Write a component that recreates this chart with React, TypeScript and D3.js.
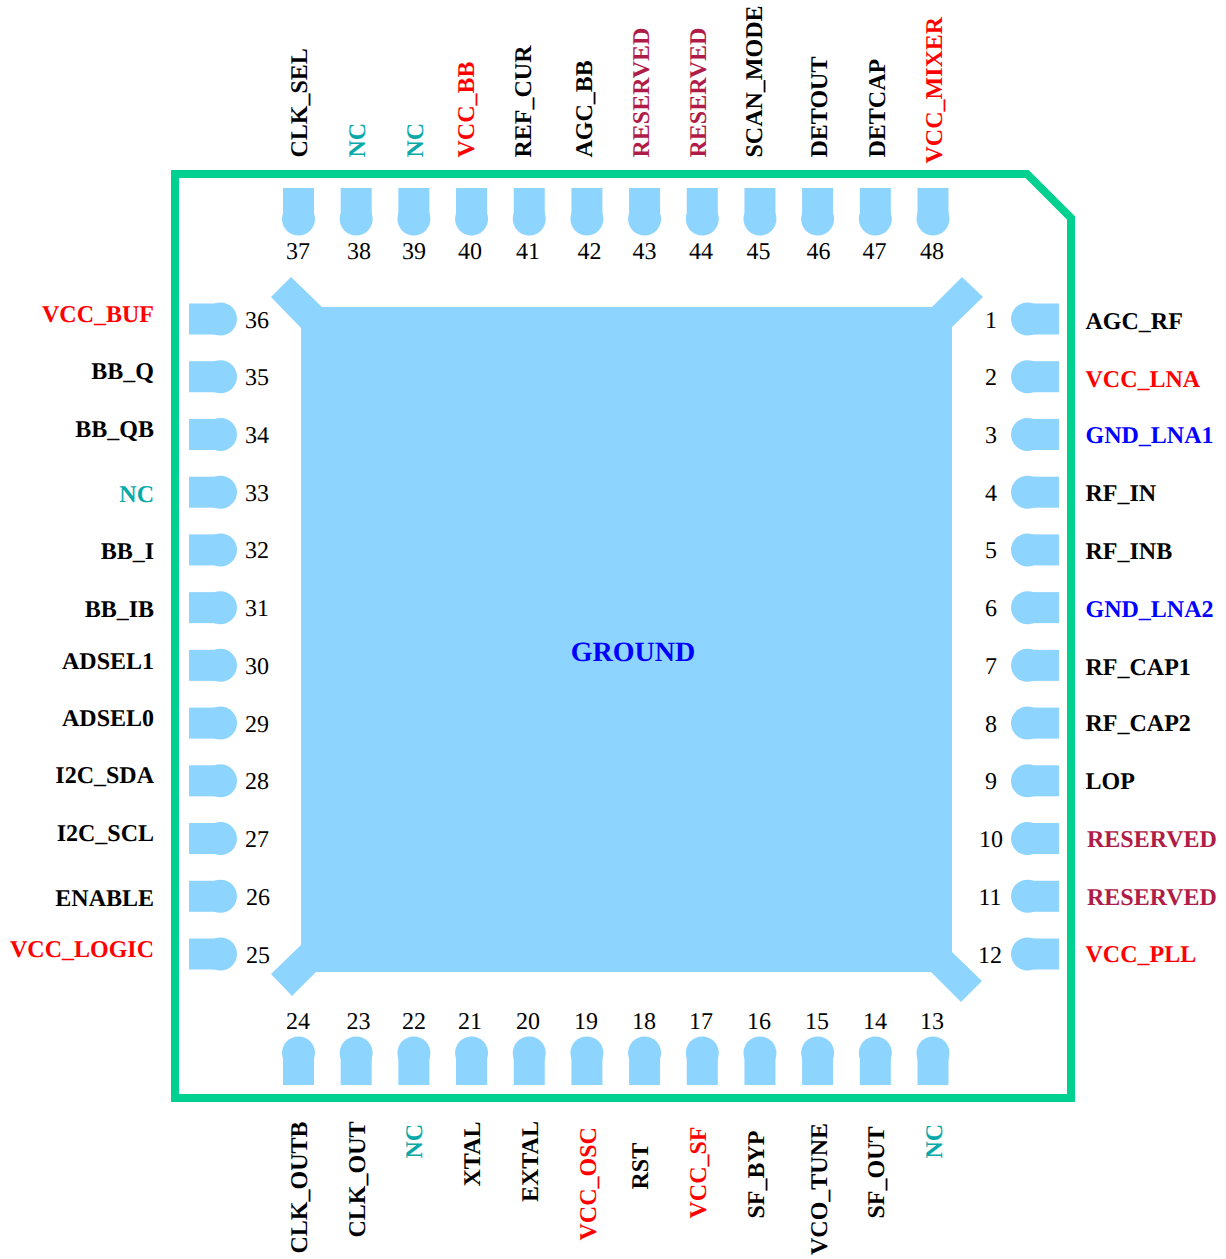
import React from "react";
import * as d3 from "d3";

const rightPins = ["AGC_RF","VCC_LNA","GND_LNA1","RF_IN","RF_INB","GND_LNA2","RF_CAP1","RF_CAP2","LOP","RESERVED","RESERVED","VCC_PLL"];
const rightNums = d3.range(1, 13);
const bottomPins = ["NC","SF_OUT","VCO_TUNE","SF_BYP","VCC_SF","RST","VCC_OSC","EXTAL","XTAL","NC","CLK_OUT","CLK_OUTB"];
const bottomNums = d3.range(13, 25);
const leftPins = ["VCC_LOGIC","ENABLE","I2C_SCL","I2C_SDA","ADSEL0","ADSEL1","BB_IB","BB_I","NC","BB_QB","BB_Q","VCC_BUF"];
const leftNums = d3.range(25, 37);
const topPins = ["CLK_SEL","NC","NC","VCC_BB","REF_CUR","AGC_BB","RESERVED","RESERVED","SCAN_MODE","DETOUT","DETCAP","VCC_MIXER"];
const topNums = d3.range(37, 49);

// Layout of the labels, which the source placed by hand
const rightLabelY = [328.5,387,442.5,501,558.5,616.5,674.5,730.5,788.5,846.5,904.5,961.5];
const leftLabelY = [956.5,905.5,840.5,782.5,725.5,668.5,616.5,558.5,502,436.5,378.5,321.5];
const topLabelX = [307,365,422.5,474,531,591.5,649,706,761.5,826.5,884.5,942];
const topLabelY = [157.5,157.5,157.5,157.5,157.5,157.5,157.5,157.5,157.5,157.5,157.5,163.5];
const bottomLabelX = [942,884,826.5,764,706,648,595.5,538,480,422,364.5,307];
const bottomLabelY = [1158.5,1218.5,1255,1218.5,1218.5,1189.5,1240.5,1202,1186.5,1158.5,1237.5,1253.5];
const topNumX = [298,359,414,470,528,589.5,644.5,701,758.5,818.5,874.5,932];
const bottomNumX = [932,875,817,759,701,644,586,528,470,414,358.5,298];
const leftNumX = [246,246,245,245,245,245,245,245,245,245,245,245];
const rightNumX = [991,991,991,991,991,991,991,991,991,991,990,990];

const COLORS = { pad: "#8dd4ff", border: "#00d090", red: "#ff0000", blue: "#0000ff", teal: "#0aa9a9", crimson: "#b01c48", black: "#000000" };
const FONT = "'Liberation Serif', 'Times New Roman', serif";

function labelColor(name: string): string {
  if (name === "NC") return COLORS.teal;
  if (name === "RESERVED") return COLORS.crimson;
  if (name.startsWith("VCC")) return COLORS.red;
  if (name.startsWith("GND")) return COLORS.blue;
  return COLORS.black;
}

const idx = d3.range(12);
const xTop = d3.scalePoint<number>().domain(idx).range([298.5, 933]);
const yLeft = d3.scalePoint<number>().domain(idx).range([954, 319]);
const yRight = d3.scalePoint<number>().domain(idx).range([319, 954]);
const xBottom = d3.scalePoint<number>().domain(idx).range([933, 298.5]);

const line = d3.line();
const outline = line([[175,174],[1027,174],[1071,218],[1071,1098],[175,1098]]) + "Z";
const groundPad = line([
  [271,297],[291,277],[322,307],[932,307],[962,277],[983,297],[952,327],
  [952,952],[982,981],[961,1002],[931,972],[316,972],[292,996],[271,974],[301,945],[301,328],
]) + "Z";

const PIN_HALF = 15.5;
const PIN_R = 16.5;

export default function App() {
  return (
    <svg width={1226} height={1259} viewBox="0 0 1226 1259" style={{ position: "absolute", left: 0, top: 0, background: "#fff" }} fontFamily={FONT} fontSize={24} textRendering="geometricPrecision">
      <path d={groundPad} fill={COLORS.pad} />
      <path d={outline} fill="none" stroke={COLORS.border} strokeWidth={8} strokeLinejoin="miter" />
      <text x={633} y={661} textAnchor="middle" fontSize={28} fontWeight="bold" fill={COLORS.blue}>GROUND</text>

      {idx.map((i) => {
        const x = xTop(i)!;
        return (
          <g key={"t" + i}>
            <rect x={x - PIN_HALF} y={188} width={PIN_HALF * 2} height={31} fill={COLORS.pad} />
            <circle cx={x} cy={219} r={PIN_R} fill={COLORS.pad} />
            <text x={topNumX[i]} y={259} textAnchor="middle" fill="#000">{topNums[i]}</text>
            <text transform={`translate(${topLabelX[i]},${topLabelY[i]}) rotate(-90)`} fontWeight="bold" fill={labelColor(topPins[i])}>{topPins[i]}</text>
          </g>
        );
      })}
      {idx.map((i) => {
        const x = xBottom(i)!;
        return (
          <g key={"b" + i}>
            <rect x={x - PIN_HALF} y={1053} width={PIN_HALF * 2} height={32} fill={COLORS.pad} />
            <circle cx={x} cy={1053} r={PIN_R} fill={COLORS.pad} />
            <text x={bottomNumX[i]} y={1028.5} textAnchor="middle" fill="#000">{bottomNums[i]}</text>
            <text transform={`translate(${bottomLabelX[i]},${bottomLabelY[i]}) rotate(-90)`} fontWeight="bold" fill={labelColor(bottomPins[i])}>{bottomPins[i]}</text>
          </g>
        );
      })}
      {idx.map((i) => {
        const y = yLeft(i)!;
        return (
          <g key={"l" + i}>
            <rect x={189} y={y - PIN_HALF} width={32} height={PIN_HALF * 2} fill={COLORS.pad} />
            <circle cx={220.5} cy={y} r={PIN_R} fill={COLORS.pad} />
            <text x={leftNumX[i]} y={y + 8.5} fill="#000">{leftNums[i]}</text>
            <text x={154} y={leftLabelY[i]} textAnchor="end" fontWeight="bold" fill={labelColor(leftPins[i])}>{leftPins[i]}</text>
          </g>
        );
      })}
      {idx.map((i) => {
        const y = yRight(i)!;
        return (
          <g key={"r" + i}>
            <rect x={1027} y={y - PIN_HALF} width={32} height={PIN_HALF * 2} fill={COLORS.pad} />
            <circle cx={1027.5} cy={y} r={PIN_R} fill={COLORS.pad} />
            <text x={rightNumX[i]} y={y + 8.5} textAnchor="middle" fill="#000">{rightNums[i]}</text>
            <text x={i === 9 || i === 10 ? 1087 : 1085.5} y={rightLabelY[i]} fontWeight="bold" fill={labelColor(rightPins[i])}>{rightPins[i]}</text>
          </g>
        );
      })}
    </svg>
  );
}
